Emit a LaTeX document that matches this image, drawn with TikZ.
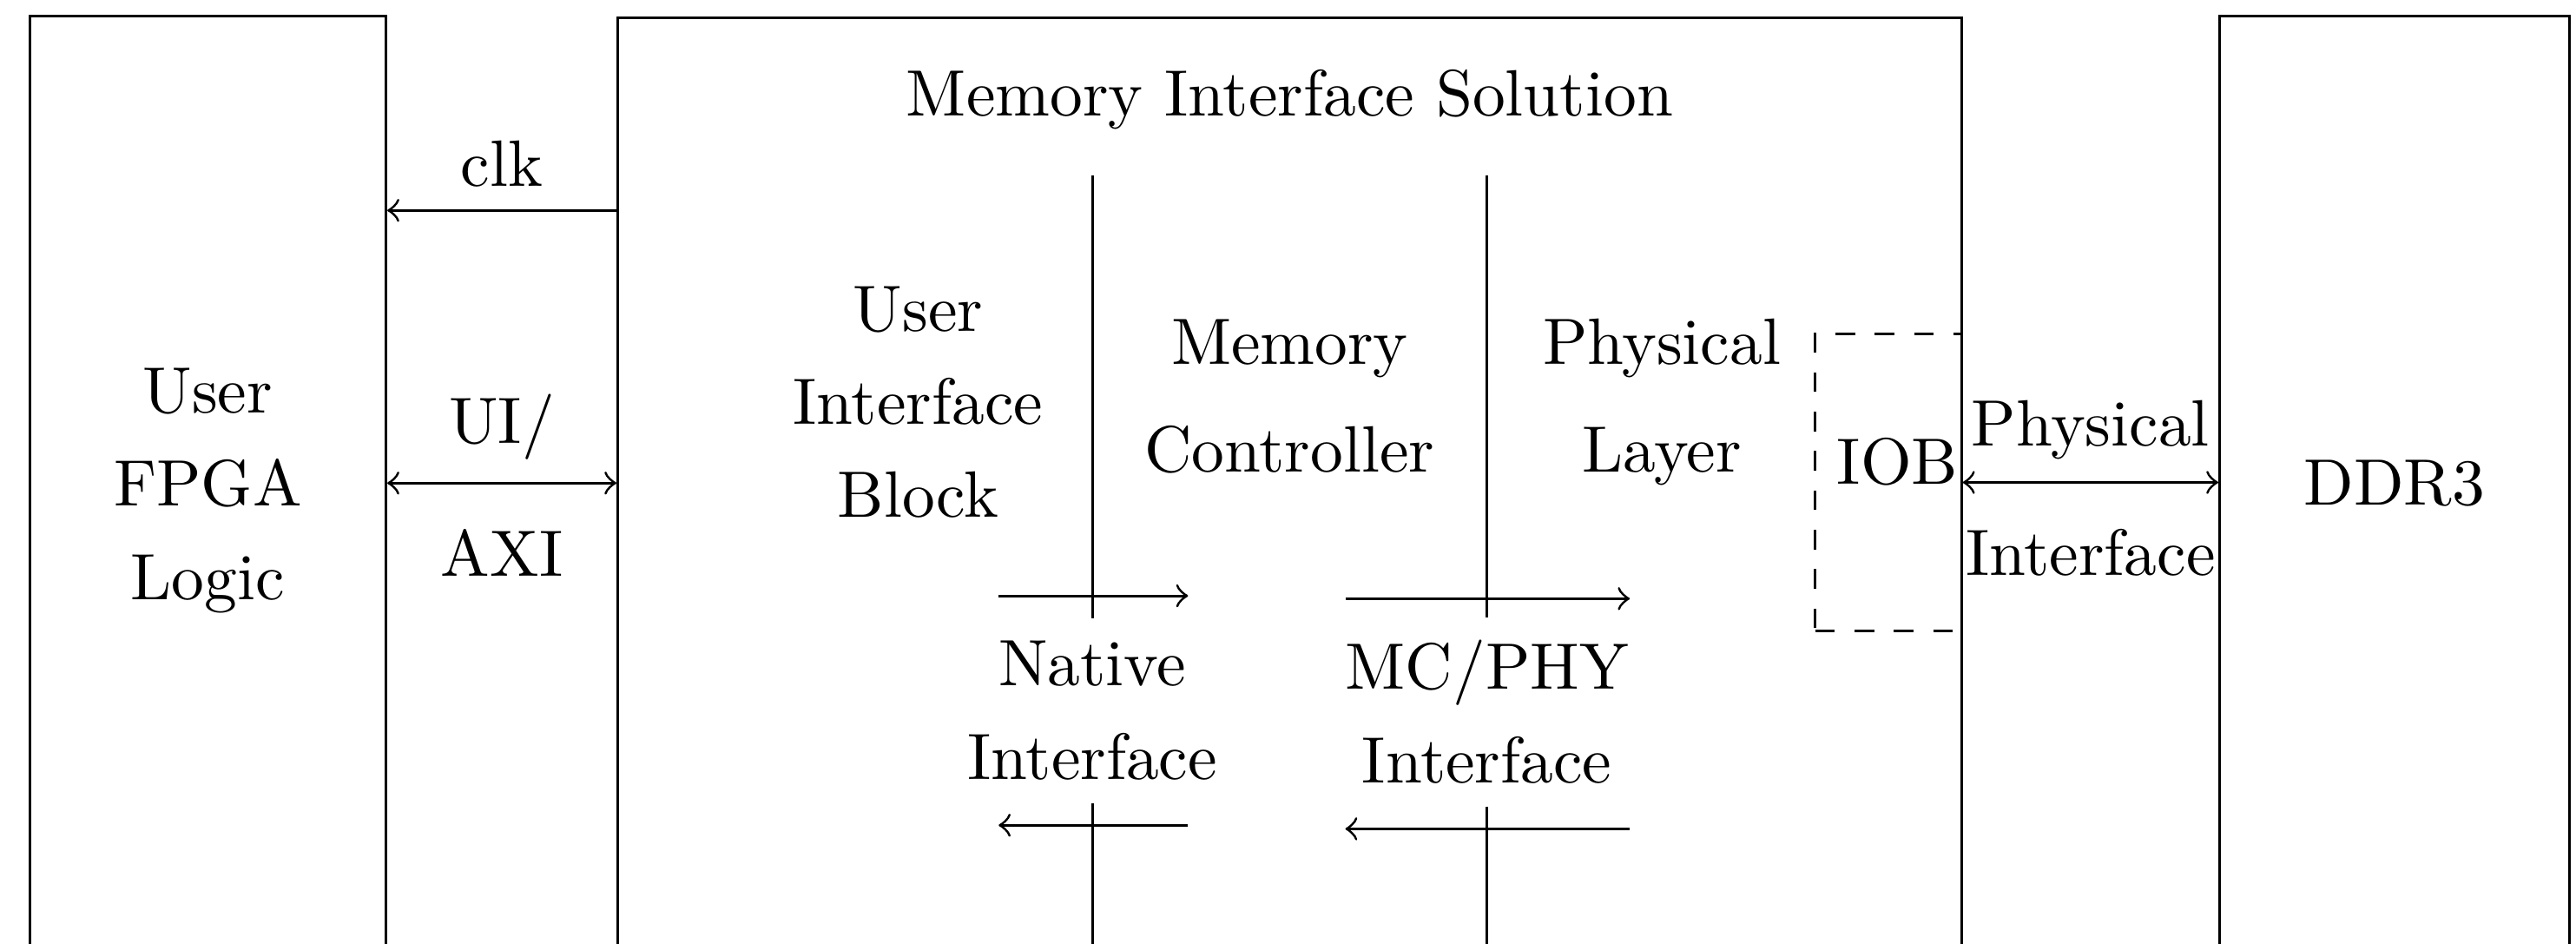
\documentclass[tikz,border=0pt]{standalone}
\usetikzlibrary{calc}
\begin{document}
\begin{tikzpicture}[x=1pt, y=1pt,
  every node/.style={font=\fontsize{10}{14.2}\selectfont},
  block/.style={draw, line width=0.4pt, inner sep=0pt},
  iobbox/.style={draw, dashed, line width=0.4pt, inner sep=0pt},
  sig/.style={->},
  bus/.style={<->},
  below label/.style={midway, anchor=base, yshift=-14.15pt},
]
\useasboundingbox (0,0) rectangle (393.1,-143.9);
\clip (0,0) rectangle (393.1,-143.9);

% main blocks
\node[block, minimum width=54.4pt, minimum height=144.7pt, align=center]
  (fpga) at (31.71,-74.85) {User\\FPGA\\Logic};
\node[block, minimum width=205.08pt, minimum height=141.9pt]
  (mis) at (196.8,-73.7) {};
\node[block, minimum width=53.4pt, minimum height=142.4pt]
  (ddr) at (365.4,-73.7) {DDR3};

% I/O buffer region inside the memory interface
\node[iobbox, minimum width=22.34pt, minimum height=45.4pt]
  (iob) at (288.17,-73.6) {};
\node[anchor=base] (iobtxt) at ($(iob.center)+(1.4,-0.26)$) {IOB};

% title and sub-blocks
\node[anchor=base] (title) at ($(mis.north)+(0,-15.1)$) {Memory Interface Solution};
\node[align=center] (uib) at (140.1,-61.4) {User\\Interface\\Block};
\node[align=center, font=\fontsize{10}{16.5}\selectfont] (mc) at (196.8,-60.5) {Memory\\Controller};
\node[align=center, font=\fontsize{10}{16.4}\selectfont] (phy) at (253.6,-61.35) {Physical\\Layer};

% internal interfaces
\node[align=center] (ni) at (166.7,-108.4) {Native\\Interface};
\node[align=center] (mpi) at (226.9,-108.6) {MC/PHY\\Interface};

% dividers between sub-blocks
\coordinate (v1top) at (166.7,-26.8);
\coordinate (v1bot) at (166.7,-150);
\coordinate (v2top) at (226.9,-26.8);
\coordinate (v2bot) at (226.9,-150);
\draw (v1top) -- (ni.north);
\draw (ni.south) -- (v1bot);
\draw (v2top) -- (mpi.north);
\draw (mpi.south) -- (v2bot);

% request / response flow across the interfaces
\coordinate (r1s) at (152.4,-90.9);   \coordinate (r1e) at (181.3,-90.9);
\coordinate (r2s) at (205.3,-91.33);  \coordinate (r2e) at (248.7,-91.33);
\coordinate (l1s) at (181.3,-125.9);  \coordinate (l1e) at (152.4,-125.9);
\coordinate (l2s) at (248.7,-126.45); \coordinate (l2e) at (205.3,-126.45);
\draw[sig] (r1s) -- (r1e);
\draw[sig] (r2s) -- (r2e);
\draw[sig] (l1s) -- (l1e);
\draw[sig] (l2s) -- (l2e);

% external connections
\draw[sig] (mis.west |- 0,-32.1) -- (fpga.east |- 0,-32.1)
  node[midway, above] (clk) {clk};
\draw[bus] (fpga.east |- mis.west) -- (mis.west)
  node[midway, above] (ui) {UI/}
  node[below label] (axi) {AXI};
\draw[bus] (iob.east) -- (ddr.west |- iob.east)
  node[midway, above] (phyif) {Physical}
  node[below label] (phyif2) {Interface};
\end{tikzpicture}
\end{document}
